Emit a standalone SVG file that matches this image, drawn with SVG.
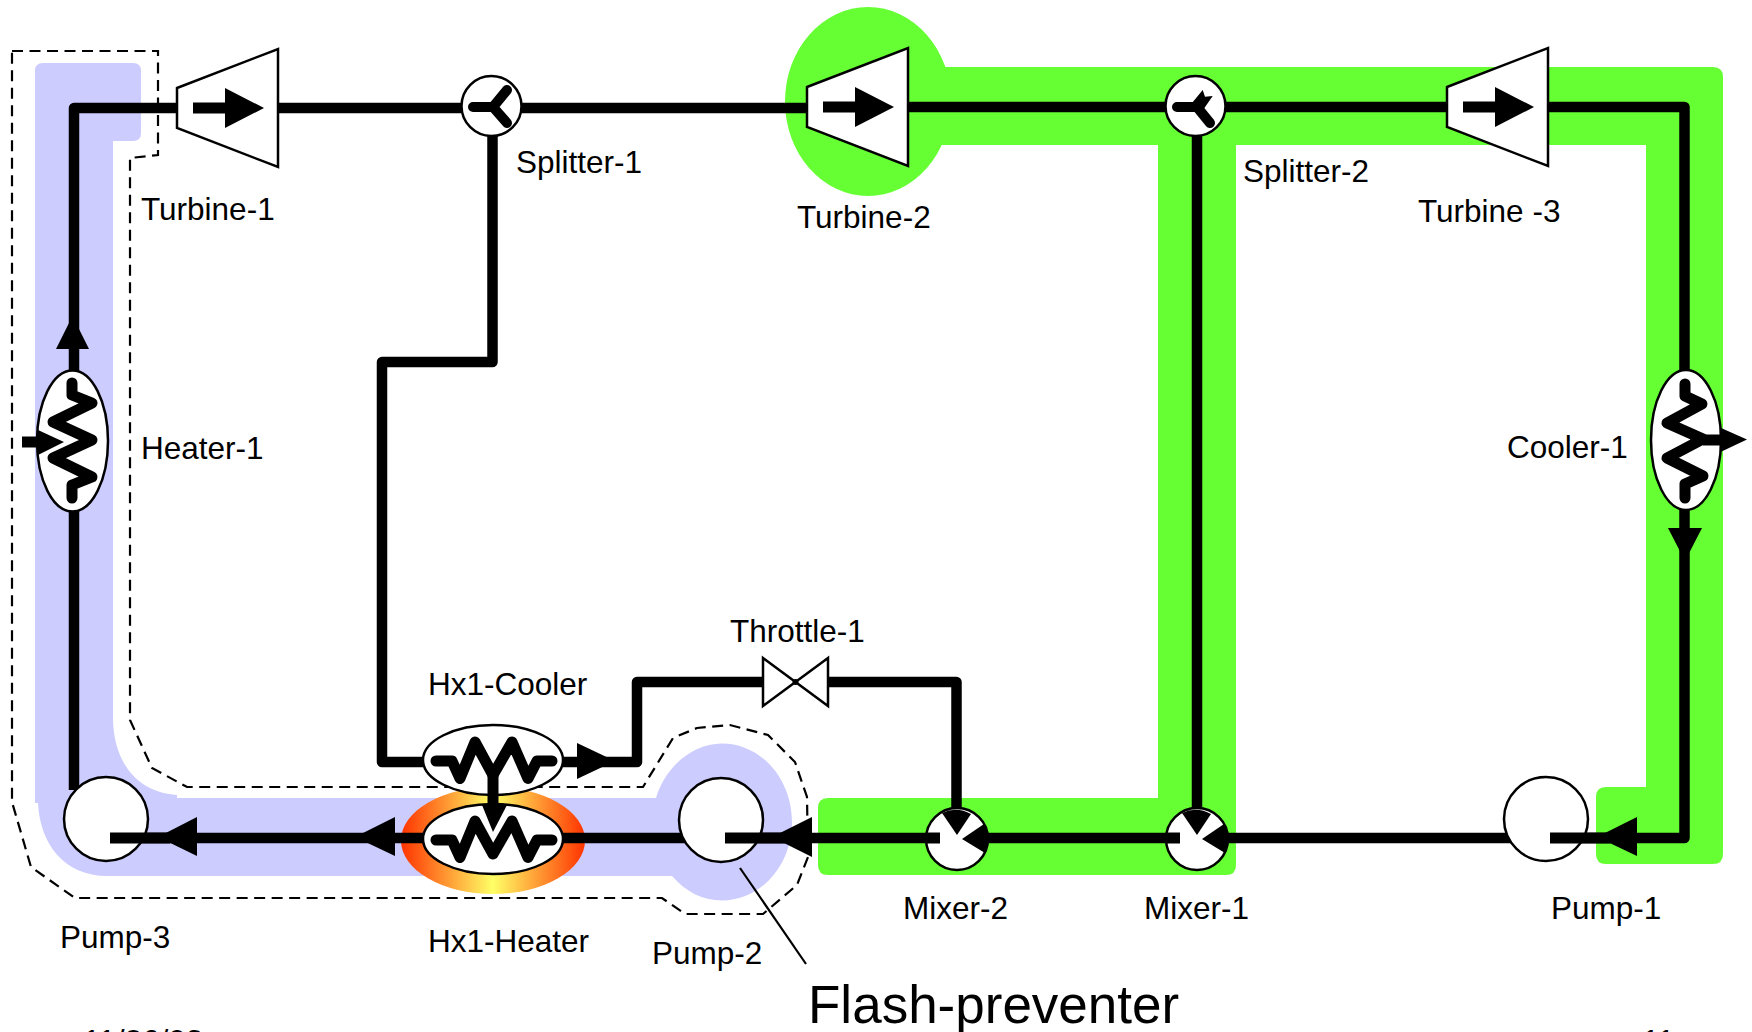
<svg xmlns="http://www.w3.org/2000/svg" xmlns:xlink="http://www.w3.org/1999/xlink" width="1752" height="1032" viewBox="0 0 1752 1032">
<style>
text{font-family:"Liberation Sans",Arial,sans-serif;font-size:31.5px;fill:#000}
.lav{fill:#ccccff}.grn{fill:#66ff33}
.pipe{fill:none;stroke:#000;stroke-width:10.5;stroke-linejoin:round}
.body{fill:#fff;stroke:#000;stroke-width:2.5}
.zig{fill:none;stroke:#000;stroke-width:11;stroke-linejoin:round;stroke-linecap:round}
.prong{fill:none;stroke:#000;stroke-width:10;stroke-linecap:round;stroke-linejoin:round}
.stub{fill:none;stroke:#000;stroke-width:11}
.head{fill:#000}
.thin{fill:none;stroke:#000;stroke-width:2.2}
</style>
<defs>
<linearGradient id="glow" x1="0" y1="0" x2="1" y2="0">
<stop offset="0" stop-color="#ff3300"/><stop offset="0.5" stop-color="#ffff66"/><stop offset="1" stop-color="#ff3300"/>
</linearGradient>
<g id="turbine">
<polygon class="body" points="0,39 101,0 101,118 0,79"/>
<path class="stub" d="M16,59H50"/>
<polygon class="head" points="48,39 87,59 48,79"/>
</g>
<g id="mixer">
<circle class="body" cx="0" cy="0" r="31"/>
<path class="stub" d="M-30,-1H-17"/>
<path class="head" d="M-15,-26L0,-4L14,-25A31,31 0 0 0 -15,-26Z"/>
<path class="head" d="M27,-15L5,0L28,14A31,31 0 0 0 27,-15Z"/>
</g>
<g id="hxzig">
<polyline class="zig" points="-57,0 -41,0 -33,17.500 -18,-19 0,14 19,-19 35,17.500 44,0 59,0"/>
</g>
</defs>

<g id="highlights">
<path class="lav" d="M43,63H133Q141,63 141,71V133Q141,141 133,141H113V717C113,760 135,792 177,795V798H656C664,770 690,743.500 722,743.500C761,743.500 792,779 792,822C792,865 761,900.500 722,900.500C702,900.500 685,891 672,876H107C65,876 40,845 38,803H35V71Q35,63 43,63Z"/>
<ellipse class="grn" cx="868" cy="101.500" rx="83" ry="94.500"/>
<path class="grn" d="M930,67H1713Q1723,67 1723,77V854Q1723,864 1713,864H1606Q1596,864 1596,854V797Q1596,787 1606,787H1646V145H1236V865Q1236,875 1226,875H828Q818,875 818,865V808Q818,798 828,798H1158V145H930Z"/>
<ellipse cx="493" cy="840.500" rx="92" ry="53.500" fill="url(#glow)"/>
</g>

<g id="boundary">
<path fill="none" stroke="#000" stroke-width="2.200" stroke-dasharray="11 6.500" d="M12,51H158V155L130,158V720L152,768L187,787H643L673,738L697,728L730,725L768,735L795,762L807,797L808,857L797,885L763,914H685L662,898H75L31,867L12,802Z"/>
<line class="thin" x1="740" y1="868" x2="806" y2="964"/>
</g>

<g id="connectors">
<path class="pipe" d="M177,108H74V790"/>
<path class="pipe" d="M278,108H806"/>
<path class="pipe" d="M908,107H1446"/>
<path class="pipe" d="M1549,107H1684.500V838H1500"/>
<path class="pipe" d="M492.500,108V362H382V762H637V682H763"/>
<path class="pipe" d="M828,682H956.500V815"/>
<path class="pipe" d="M1197,107V815"/>
<path class="pipe" d="M1197,838H1500"/>
<path class="pipe" d="M957,838H1197"/>
<path class="pipe" d="M725,838H957"/>
<path class="pipe" d="M110,838H725"/>
<polygon class="head" points="56,349 89,349 72.500,316"/>
<polygon class="head" points="158,837 197,817 197,856"/>
<polygon class="head" points="355,837 395,817 395,856"/>
<polygon class="head" points="577,743 615,761 577,779"/>
<polygon class="head" points="1668,528 1702,528 1685,561"/>
</g>

<g id="turbine-1"><use href="#turbine" x="177" y="49"/><text x="141" y="220">Turbine-1</text></g>
<g id="turbine-2"><use href="#turbine" x="807" y="48"/><text x="797" y="228">Turbine-2</text></g>
<g id="turbine-3"><use href="#turbine" x="1447" y="48"/><text x="1418" y="222">Turbine -3</text></g>

<g id="splitter-1">
<circle class="body" cx="491.500" cy="106" r="30"/>
<path class="prong" d="M473,107H493L507,90M493,107L507,123"/>
<text x="516" y="173">Splitter-1</text>
</g>
<g id="splitter-2">
<circle class="body" cx="1195.500" cy="106" r="30"/>
<path class="prong" d="M1177,107H1197L1210,123"/>
<polygon class="head" points="1192,103 1202.700,90 1205,96.700 1212.700,96 1203,110 1195,112"/>
<text x="1243" y="182">Splitter-2</text>
</g>

<g id="heater-1">
<ellipse class="body" cx="72.500" cy="441" rx="35.500" ry="70.500"/>
<polyline class="zig" points="72,383 72,395 92,403 53,422 92,440 53,458 92,477 72,485 72,498"/>
<path class="stub" d="M22,442H42"/>
<polygon class="head" points="38,430 64,442 38,455"/>
<text x="141" y="459">Heater-1</text>
</g>

<g id="cooler-1">
<polygon class="head" points="1712,424 1747,439.500 1712,456"/>
<ellipse class="body" cx="1686" cy="440" rx="35" ry="70"/>
<polyline class="zig" points="1685,384 1685,396 1702,404 1667,423 1703,439 1667,458 1703,476 1685,484 1685,498"/>
<path class="stub" d="M1703,440H1722"/>
<text x="1507" y="458">Cooler-1</text>
</g>

<g id="hx1-cooler">
<ellipse class="body" cx="493" cy="760" rx="70" ry="35"/>
<use href="#hxzig" x="493" y="761"/>
<text x="428" y="695">Hx1-Cooler</text>
</g>
<g id="hx1-heater">
<ellipse class="body" cx="493" cy="839" rx="70" ry="35"/>
<use href="#hxzig" x="493" y="840"/>
<path class="stub" d="M493,772V806"/>
<polygon class="head" points="482,805 507,805 493,832"/>
<text x="428" y="952">Hx1-Heater</text>
</g>

<g id="throttle-1">
<polygon class="body" points="763,658 828,706 828,658 763,706"/>
<circle class="head" cx="795.500" cy="682" r="3"/>
<text x="730" y="642">Throttle-1</text>
</g>

<g id="pump-3">
<circle class="body" cx="106" cy="819" r="42"/>
<path class="stub" d="M110,838H170"/>
<text x="60" y="948">Pump-3</text>
</g>
<g id="pump-2">
<circle class="body" cx="721" cy="820" r="42"/>
<path class="stub" d="M725,838H785"/>
<polygon class="head" points="772,837 812,817 812,857"/>
<text x="652" y="964">Pump-2</text>
</g>
<g id="pump-1">
<circle class="body" cx="1546" cy="819" r="42"/>
<path class="stub" d="M1550,838H1610"/>
<polygon class="head" points="1597,837 1637,817 1637,856"/>
<text x="1551" y="919">Pump-1</text>
</g>

<g id="mixer-2"><use href="#mixer" x="957" y="839"/><text x="903" y="919">Mixer-2</text></g>
<g id="mixer-1"><use href="#mixer" x="1197" y="839"/><text x="1144" y="919">Mixer-1</text></g>

<text x="808" y="1023" style="font-size:53px">Flash-preventer</text>
<text x="83" y="1052">11/26/03</text>
<text x="1642" y="1052">11</text>
</svg>
